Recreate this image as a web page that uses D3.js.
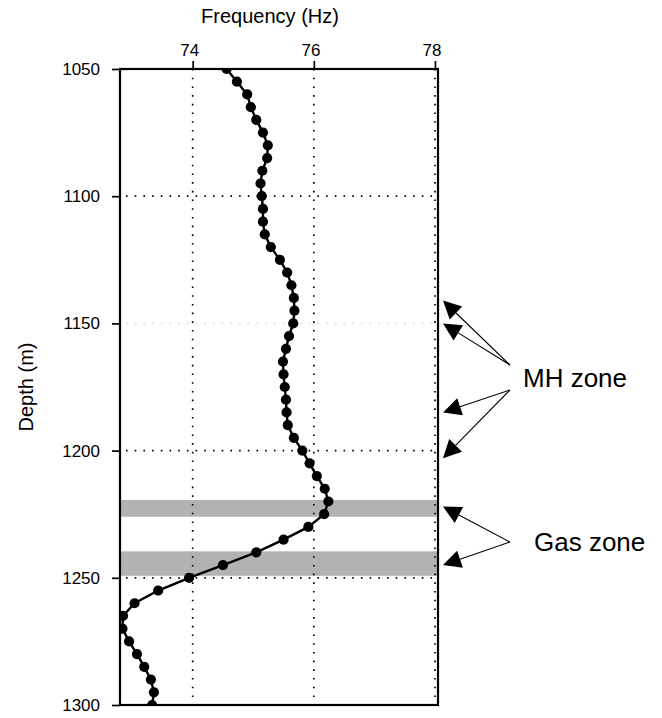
<!DOCTYPE html>
<html>
<head>
<meta charset="utf-8">
<script src="https://cdn.jsdelivr.net/npm/d3@7"></script>
<style>
  html, body { margin: 0; padding: 0; background: #fff; }
  svg { display: block; font-family: "Liberation Sans", Arial, Helvetica, sans-serif; }
</style>
</head>
<body>
<svg id="chart" width="662" height="718"></svg>
<script>
// ---- data ----
const depths = [1050,1055,1060,1065,1070,1075,1080,1085,1090,1095,
                1100,1105,1110,1115,1120,1125,1130,1135,1140,1145,
                1150,1155,1160,1165,1170,1175,1180,1185,1190,1195,
                1200,1205,1210,1215,1220,1225,1230,1235,1240,1245,
                1250,1255,1260,1265,1270,1275,1280,1285,1290,1295,1300];
const frequencies = [74.56,74.73,74.90,74.96,75.05,75.16,75.24,75.23,75.15,75.12,
                     75.14,75.16,75.16,75.19,75.29,75.44,75.56,75.63,75.67,75.68,
                     75.66,75.59,75.54,75.49,75.50,75.52,75.54,75.55,75.57,75.67,
                     75.81,75.93,76.05,76.18,76.24,76.17,75.91,75.50,75.05,74.50,
                     73.94,73.43,73.04,72.85,72.84,72.95,73.08,73.20,73.31,73.36,73.33];
const xTicks = [74, 76, 78];
const yTicks = [1050, 1100, 1150, 1200, 1250, 1300];
const xGrid = [74, 76, 78];
const yGrid = [1100, 1200, 1250];
const yGridFaint = [1150];
const gasBands = [[1219.4, 1226.0], [1239.6, 1249.2]];
const mhArrowDepths = [1141, 1150, 1185, 1203];
const gasArrowDepths = [1222, 1245];
const xLabel = "Frequency (Hz)";
const yLabel = "Depth (m)";
const mhLabel = "MH zone";
const gasLabel = "Gas zone";

// ---- layout ----
const L = 120, R = 438, T = 69, B = 705;
const svg = d3.select("#chart");
const x = d3.scaleLinear().domain([72.8, 78.05]).range([L, R]);
const y = d3.scaleLinear().domain([1050, 1300]).range([T, B]);

svg.append("defs").append("clipPath").attr("id", "plotclip")
  .append("rect").attr("x", L).attr("y", T).attr("width", R - L).attr("height", B - T);

// gas bands
svg.append("g").selectAll("rect").data(gasBands).join("rect")
  .attr("x", L).attr("width", R - L)
  .attr("y", d => y(d[0])).attr("height", d => y(d[1]) - y(d[0]))
  .attr("fill", "#b2b2b2");

// gridlines
const grid = svg.append("g").attr("stroke-dasharray", "1.6 7.1").attr("stroke-width", 1.7);
grid.selectAll("line.v").data(xGrid).join("line").attr("class", "v")
  .attr("x1", d => x(d)).attr("x2", d => x(d)).attr("y1", T).attr("y2", B)
  .attr("stroke", "#000");
grid.selectAll("line.h").data(yGrid).join("line").attr("class", "h")
  .attr("y1", d => y(d)).attr("y2", d => y(d)).attr("x1", L + 6).attr("x2", R)
  .attr("stroke", "#000");
grid.selectAll("line.hf").data(yGridFaint).join("line").attr("class", "hf")
  .attr("y1", d => y(d)).attr("y2", d => y(d)).attr("x1", L + 6).attr("x2", R)
  .attr("stroke", "#dddddd");

// axes
const xAxis = d3.axisTop(x).tickValues(xTicks).tickSize(8).tickFormat(d3.format("d"));
const gx = svg.append("g").attr("transform", `translate(0,${T})`).call(xAxis);
const yAxis = d3.axisLeft(y).tickValues(yTicks).tickSize(8).tickPadding(12).tickFormat(d3.format("d"));
const gy = svg.append("g").attr("transform", `translate(${L},0)`).call(yAxis);
[gx, gy].forEach(g => {
  g.select(".domain").remove();
  g.selectAll(".tick line").attr("stroke", "#000").attr("stroke-width", 1.7);
  g.selectAll(".tick text").attr("fill", "#000").attr("font-size", 17)
    .attr("font-family", '"Liberation Sans", Arial, sans-serif');
});
gx.selectAll(".tick text").attr("dy", "-0.1em").attr("dx", "-0.2em");

// frame
svg.append("rect").attr("x", L).attr("y", T).attr("width", R - L).attr("height", B - T)
  .attr("fill", "none").attr("stroke", "#000").attr("stroke-width", 2.2);

// curve
const pts = depths.map((d, i) => ({ d, f: frequencies[i] }));
const plot = svg.append("g").attr("clip-path", "url(#plotclip)");
plot.append("path").datum(pts)
  .attr("d", d3.line().x(p => x(p.f)).y(p => y(p.d)))
  .attr("fill", "none").attr("stroke", "#000").attr("stroke-width", 2.4);
plot.selectAll("circle").data(pts).join("circle")
  .attr("cx", p => x(p.f)).attr("cy", p => y(p.d)).attr("r", 5.1).attr("fill", "#000");

// axis titles
svg.append("text").attr("x", 270).attr("y", 23).attr("text-anchor", "middle")
  .attr("font-size", 20).text(xLabel);
svg.append("text").attr("transform", `translate(33,${(T + B) / 2}) rotate(-90)`)
  .attr("text-anchor", "middle").attr("font-size", 20).text(yLabel);

// annotations
const tipX = 443;
function arrow(g, x0, y0, x1, y1) {
  const dx = x1 - x0, dy = y1 - y0, len = Math.hypot(dx, dy);
  const ux = dx / len, uy = dy / len;
  const hl = 18, hw = 9;
  const bx = x1 - ux * hl, by = y1 - uy * hl;
  g.append("line").attr("x1", x0).attr("y1", y0).attr("x2", bx).attr("y2", by)
    .attr("stroke", "#000").attr("stroke-width", 1.1);
  g.append("path")
    .attr("d", `M${x1},${y1}L${bx - uy * hw},${by + ux * hw}L${bx + uy * hw},${by - ux * hw}Z`)
    .attr("fill", "#000");
}
const ann = svg.append("g");
mhArrowDepths.forEach((d, i) => arrow(ann, 510, i < 2 ? 365 : 390, tipX, y(d)));
gasArrowDepths.forEach(d => arrow(ann, 510, 542, tipX, y(d)));
ann.append("text").attr("x", 523).attr("y", 387).attr("font-size", 26).text(mhLabel);
ann.append("text").attr("x", 534).attr("y", 551).attr("font-size", 26).text(gasLabel);
</script>
</body>
</html>
